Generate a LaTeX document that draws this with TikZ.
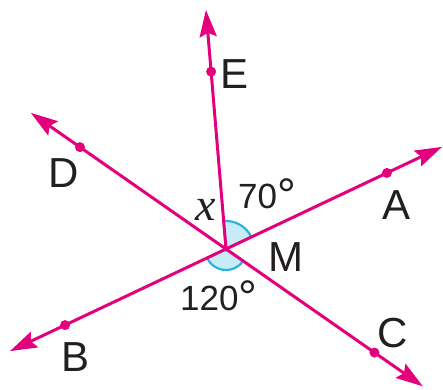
\documentclass[tikz,border=0pt]{standalone}
\usepackage{fontspec}
\setmainfont{Liberation Sans}
\newfontfamily\varfont{Liberation Serif}
\usetikzlibrary{arrows.meta,calc}
\definecolor{pinkline}{RGB}{228,0,124}
\definecolor{arccol}{RGB}{40,180,220}
\definecolor{arcfill}{RGB}{200,235,248}
\definecolor{txt}{RGB}{35,31,32}
\newcommand{\degsym}{\raisebox{-3pt}{\fontsize{47}{47}\selectfont °}}
\begin{document}
\begin{tikzpicture}[x=1pt,y=1pt,
  tipstyle/.tip={Stealth[length=27pt,width=17pt,inset=4pt]},
  oneray/.style={draw=pinkline,line width=3pt,-tipstyle},
  fullline/.style={draw=pinkline,line width=3pt,tipstyle-tipstyle},
  ptdot/.style={fill=pinkline,circle,inner sep=0pt,minimum size=10pt},
  anglemark/.style={draw=arccol,fill=arcfill,line width=2.2pt},
  lettertxt/.style={text=txt,font=\fontsize{42}{48}\selectfont,inner sep=0pt},
  numtxt/.style={text=txt,font=\fontsize{35}{40}\selectfont,inner sep=0pt},
  vartxt/.style={text=txt,font=\fontsize{46}{50}\selectfont\varfont\itshape,inner sep=0pt}
]
\useasboundingbox (0,0) rectangle (443,389);
\coordinate (M) at (226,140);
\coordinate (Atip) at ($(M)+(25.3:239)$);
\coordinate (Btip) at ($(M)+(205.3:239)$);
\coordinate (Dtip) at ($(M)+(145.1:238)$);
\coordinate (Ctip) at ($(M)+(-34.9:240)$);
\coordinate (Etip) at ($(M)+(94.8:240)$);
% angle marks
\filldraw[anglemark] (M) -- ($(M)+(25.3:28)$) arc[start angle=25.3,end angle=94.8,radius=28] -- cycle;
\filldraw[anglemark] (M) -- ($(M)+(205.3:21)$) arc[start angle=205.3,end angle=325.1,radius=21] -- cycle;
% lines
\draw[fullline] (Btip) -- (Atip);
\draw[fullline] (Dtip) -- (Ctip);
\draw[oneray] (M) -- (Etip);
% points
\node[ptdot] (Adot) at ($(M)+(25.3:178)$) {};
\node[ptdot] (Bdot) at ($(M)+(205.3:178)$) {};
\node[ptdot] (Ddot) at ($(M)+(145.1:178)$) {};
\node[ptdot] (Cdot) at ($(M)+(-34.9:181)$) {};
\node[ptdot] (Edot) at ($(M)+(94.8:178)$) {};
\node[circle,fill=pinkline,inner sep=0pt,minimum size=5pt] (Mdot) at (M) {};
% labels
\node[lettertxt] (Elab) at (235,315) {E};
\node[lettertxt] (Dlab) at (64,216) {D};
\node[lettertxt] (Alab) at (396,184) {A};
\node[lettertxt] (Blab) at (76,32) {B};
\node[lettertxt] (Clab) at (393,56) {C};
\node[lettertxt] (Mlab) at (286,132) {M};
\node[vartxt] (xlab) at (206,179) {x};
\node[numtxt,anchor=base west] (ang70) at (238,181) {70\degsym};
\node[numtxt,anchor=base west] (ang120) at (180,79) {120\degsym};
\end{tikzpicture}
\end{document}
